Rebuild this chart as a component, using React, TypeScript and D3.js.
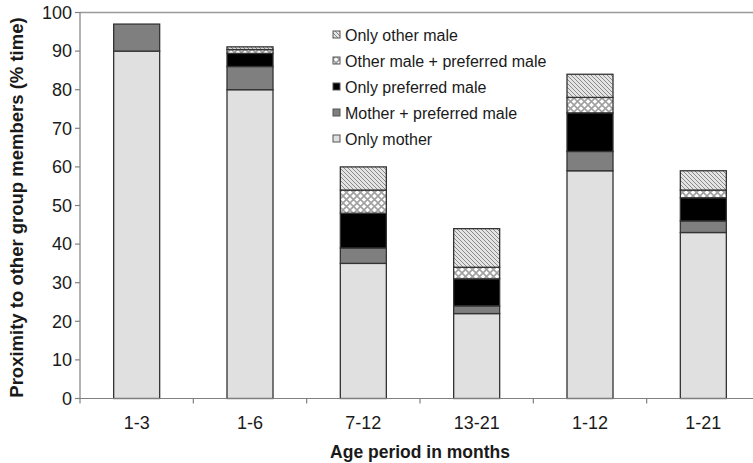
import React from "react";
import * as d3 from "d3";

const categories = ["1-3", "1-6", "7-12", "13-21", "1-12", "1-21"];
const seriesNames = [
  "Only mother",
  "Mother + preferred male",
  "Only preferred male",
  "Other male + preferred male",
  "Only other male",
];
const onlyMother = [90, 80, 35, 22, 59, 43];
const motherPreferred = [7, 6, 4, 2, 5, 3];
const onlyPreferred = [0, 3.4, 9, 7, 10, 6];
const otherPreferred = [0, 1, 6, 3, 4, 2];
const onlyOther = [0, 0.7, 6, 10, 6, 5];
const yTicks = [0, 10, 20, 30, 40, 50, 60, 70, 80, 90, 100];

const W = 753;
const H = 463;
const left = 80;
const right = 760;
const top = 12.5;
const bottom = 398.5;

const fills = ["#e0e0e0", "#7f7f7f", "#000000", "url(#cross)", "url(#hatch)"];

export default function App() {
  const rows = categories.map((c, i) => ({
    cat: c,
    [seriesNames[0]]: onlyMother[i],
    [seriesNames[1]]: motherPreferred[i],
    [seriesNames[2]]: onlyPreferred[i],
    [seriesNames[3]]: otherPreferred[i],
    [seriesNames[4]]: onlyOther[i],
  }));
  const stack = d3.stack<any>().keys(seriesNames)(rows);
  const x = d3
    .scaleBand<string>()
    .domain(categories)
    .range([left, right])
    .paddingInner(0.594)
    .paddingOuter(0.297);
  const y = d3.scaleLinear().domain([0, 100]).range([bottom, top]);
  const step = x.step();
  const font = "'Liberation Sans', Arial, sans-serif";

  const legendItems = [...seriesNames].reverse();
  const legendFills = [...fills].reverse();

  return (
    <svg
      width={W}
      height={H}
      style={{ position: "absolute", left: 0, top: 0, display: "block", background: "#fff" }}
    >
      <defs>
        <pattern id="hatch" patternUnits="userSpaceOnUse" width="4" height="4">
          <rect width="4" height="4" fill="#e4e4e4" />
          <path d="M-1,-1 L5,5 M-1,3 L1,5 M3,-1 L5,1" stroke="#8a8a8a" strokeWidth="1" />
        </pattern>
        <pattern id="cross" patternUnits="userSpaceOnUse" width="7" height="7">
          <rect width="7" height="7" fill="#ffffff" />
          <path d="M0,0 L7,7 M7,0 L0,7" stroke="#a0a0a0" strokeWidth="1.6" />
        </pattern>
      </defs>

      {/* top border */}
      <line x1={left} x2={W} y1={top} y2={top} stroke="#9a9a9a" strokeWidth={1.5} />

      {/* bars */}
      {stack.map((layer, li) => (
        <g key={layer.key}>
          {layer.map((d, i) => {
            const h = y(d[0]) - y(d[1]);
            if (h <= 0) return null;
            return (
              <rect
                key={i}
                x={x(categories[i])!}
                y={y(d[1])}
                width={x.bandwidth()}
                height={h}
                fill={fills[li]}
                stroke="#333"
                strokeWidth={1.3}
              />
            );
          })}
        </g>
      ))}

      {/* y axis */}
      <line x1={left} x2={left} y1={top} y2={bottom} stroke="#808080" strokeWidth={1.2} />
      {yTicks.map((t) => (
        <g key={t}>
          <line x1={left - 5} x2={left} y1={y(t)} y2={y(t)} stroke="#808080" strokeWidth={1.2} />
          <text
            x={left - 8}
            y={y(t)}
            dy="0.35em"
            textAnchor="end"
            fontFamily={font}
            fontSize={18}
            fill="#1a1a1a"
          >
            {t}
          </text>
        </g>
      ))}

      {/* x axis */}
      <line x1={left} x2={W} y1={bottom} y2={bottom} stroke="#808080" strokeWidth={1.2} />
      {d3.range(categories.length + 1).map((i) => {
        const xx = left + i * step;
        return (
          <line key={i} x1={xx} x2={xx} y1={bottom} y2={bottom + 5} stroke="#808080" strokeWidth={1.2} />
        );
      })}
      {categories.map((c) => (
        <text
          key={c}
          x={x(c)! + x.bandwidth() / 2}
          y={423}
          dy="0.35em"
          textAnchor="middle"
          fontFamily={font}
          fontSize={18}
          fill="#1a1a1a"
        >
          {c}
        </text>
      ))}

      {/* axis titles */}
      <text
        x={(left + right) / 2}
        y={452}
        dy="0.35em"
        textAnchor="middle"
        fontFamily={font}
        fontSize={17.5}
        fontWeight="bold"
        fill="#1a1a1a"
      >
        Age period in months
      </text>
      <text
        transform={`translate(17,${(top + bottom) / 2 + 2}) rotate(-90)`}
        dy="0.35em"
        textAnchor="middle"
        fontFamily={font}
        fontSize={18.5}
        fontWeight="bold"
        fill="#1a1a1a"
      >
        Proximity to other group members (% time)
      </text>

      {/* legend */}
      {legendItems.map((name, i) => {
        const ly = 35 + i * 26;
        return (
          <g key={name}>
            <rect
              x={333}
              y={ly - 4}
              width={7}
              height={7}
              fill={legendFills[i]}
              stroke="#555"
              strokeWidth={1}
            />
            <text x={345} y={ly} dy="0.35em" fontFamily={font} fontSize={16} fill="#1a1a1a">
              {name}
            </text>
          </g>
        );
      })}
    </svg>
  );
}
